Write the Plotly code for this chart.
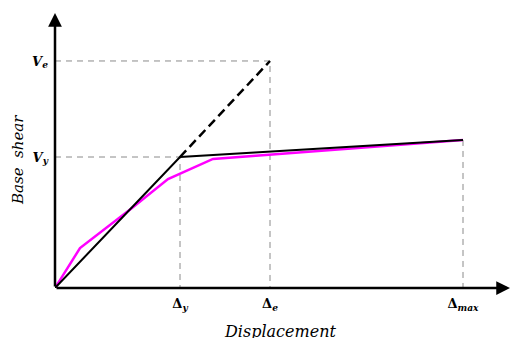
import plotly.graph_objects as go

# Key displacement / shear values (normalised units)
d_y, d_e, d_max = 1.0, 1.72, 3.264
V_y, V_e, V_end = 1.0, 1.733, 1.13

# Idealised bilinear curve
bilin_x = [0.0, d_y, d_max]
bilin_y = [0.0, V_y, V_end]
# Elastic extension (dashed)
elas_x = [d_y, d_e]
elas_y = [V_y, V_e]
# Actual capacity curve (magenta)
cap_x = [0.0, 0.2, 0.616, 0.904, 1.264, 3.264]
cap_y = [0.0, 0.305, 0.61, 0.832, 0.985, 1.13]

tick_x_vals = [d_y, d_e, d_max]
tick_x_text = ["<b>Δ<sub><i>y</i></sub></b>", "<b>Δ<sub><i>e</i></sub></b>", "<b>Δ<sub><i>max</i></sub></b>"]
tick_y_vals = [V_y, V_e]
tick_y_text = ["<b><i>V</i><sub><i>y</i></sub></b>", "<b><i>V</i><sub><i>e</i></sub></b>"]

x_max, y_max = 3.64, 2.10
FONT = "DejaVu Serif"

fig = go.Figure()
grey = dict(color="#8a8a8a", width=1, dash="6px,5px")
# reference dashed lines
fig.add_trace(go.Scatter(x=[0, d_e, d_e], y=[V_e, V_e, 0], mode="lines", line=grey, hoverinfo="skip"))
fig.add_trace(go.Scatter(x=[0, d_y, d_y], y=[V_y, V_y, 0], mode="lines", line=grey, hoverinfo="skip"))
fig.add_trace(go.Scatter(x=[d_max, d_max], y=[V_end, 0], mode="lines", line=grey, hoverinfo="skip"))
# curves
fig.add_trace(go.Scatter(x=cap_x, y=cap_y, mode="lines", line=dict(color="#ff00ff", width=2.5), cliponaxis=False))
fig.add_trace(go.Scatter(x=bilin_x, y=bilin_y, mode="lines", line=dict(color="black", width=2), cliponaxis=False))
fig.add_trace(go.Scatter(x=elas_x, y=elas_y, mode="lines", line=dict(color="black", width=2.5, dash="9px,5px")))

# axis arrows
fig.add_annotation(x=0, y=y_max, ax=0, ay=0, xref="x", yref="y", axref="x", ayref="y",
                   showarrow=True, arrowhead=2, arrowsize=1.1, arrowwidth=2.5, arrowcolor="black", text="")
fig.add_annotation(x=x_max, y=0, ax=0, ay=0, xref="x", yref="y", axref="x", ayref="y",
                   showarrow=True, arrowhead=2, arrowsize=1.1, arrowwidth=2.5, arrowcolor="black", text="")

# axis titles
fig.add_annotation(x=18 / 510, y=1 - 160 / 338, xref="paper", yref="paper", text="<i>Base  shear</i>",
                   showarrow=False, textangle=-90, xanchor="center", yanchor="middle",
                   font=dict(family=FONT, size=15, color="black"))
fig.add_annotation(x=280 / 510, y=1 - 331 / 338, xref="paper", yref="paper", text="<i>Displacement</i>",
                   showarrow=False, xanchor="center", yanchor="middle",
                   font=dict(family=FONT, size=16, color="black"))

fig.update_layout(
    width=510, height=338, margin=dict(l=0, r=0, t=0, b=0),
    plot_bgcolor="white", paper_bgcolor="white", showlegend=False,
    xaxis=dict(domain=[55 / 510, 1], range=[0, (510 - 55) / 125], tickvals=tick_x_vals, ticktext=tick_x_text,
               showgrid=False, zeroline=False, showline=False, ticks="", ticklabelstandoff=6,
               tickfont=dict(family=FONT, size=13, color="black")),
    yaxis=dict(domain=[50 / 338, 1], range=[0, 288 / 131], tickvals=tick_y_vals, ticktext=tick_y_text,
               showgrid=False, zeroline=False, showline=False, ticks="", ticklabelstandoff=6,
               tickfont=dict(family=FONT, size=13, color="black")),
)

fig.write_html("out.html")
